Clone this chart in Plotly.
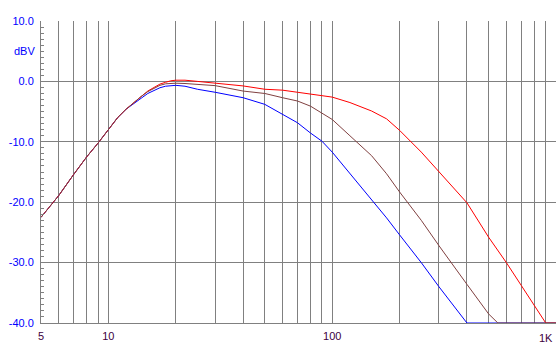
import plotly.graph_objects as go

freq = [5, 6, 7, 8, 9, 10, 11, 12, 13, 14, 15, 16, 17, 18, 19, 20, 22, 25, 30,
        40, 50, 60, 70, 80, 90, 100, 120, 150, 175, 200, 250, 300, 400, 500, 550,
        600, 700, 800, 900, 1000]

red = [-22.5, -18.9, -15.4, -12.5, -10.2, -7.9, -6.0, -4.6, -3.5, -2.5, -1.6, -1.0, -0.45,
       -0.15, 0.1, 0.2, 0.2, 0.0, -0.3, -0.75, -1.3, -1.45, -1.8, -2.1, -2.35, -2.6, -3.5,
       -4.9, -6.2, -8.1, -11.7, -15.0, -20.1, -25.8, -27.9, -30.0, -33.8, -37.0, -40.0, -40.0]
brown = [-22.5, -18.9, -15.4, -12.5, -10.2, -7.9, -6.0, -4.6, -3.5, -2.5, -1.7, -1.1, -0.65,
         -0.4, -0.3, -0.3, -0.35, -0.5, -0.7, -1.6, -2.0, -2.7, -3.25, -4.1, -5.2, -6.3, -9.0,
         -12.3, -15.3, -18.3, -23.0, -27.2, -33.6, -38.5, -40.0, -40.0, -40.0, -40.0, -40.0, -40.0]
blue = [-22.5, -18.9, -15.4, -12.5, -10.2, -7.9, -6.0, -4.6, -3.6, -2.8, -2.0, -1.45, -1.05,
        -0.8, -0.7, -0.65, -0.8, -1.3, -1.8, -2.7, -3.8, -5.5, -6.85, -8.55, -9.9, -11.7, -15.2,
        -19.5, -22.6, -25.4, -30.0, -34.0, -40.0, -40.0, -40.0, -40.0, -40.0, -40.0, -40.0, -40.0]

x_grid = [5, 6, 7, 8, 9, 10, 20, 30, 40, 50, 60, 70, 80, 90, 100,
          200, 300, 400, 500, 600, 700, 800, 900, 1000]
x_labels = {5: "5", 10: "10", 100: "100"}
y_ticks = [10, 0, -10, -20, -30, -40]
y_labels = ["10.0", "0.0", "-10.0", "-20.0", "-30.0", "-40.0"]

grid = "#808080"
font = "Liberation Sans, Arial, sans-serif"

fig = go.Figure()
fig.add_trace(go.Scatter(x=freq, y=blue, mode="lines", line=dict(color="#0000FF", width=1)))
fig.add_trace(go.Scatter(x=freq, y=red, mode="lines", line=dict(color="#FF0000", width=1)))
fig.add_trace(go.Scatter(x=freq, y=brown, mode="lines", line=dict(color="#804040", width=1)))

fig.update_layout(
    width=556, height=345,
    margin=dict(l=41, r=0, t=21, b=22),
    paper_bgcolor="white", plot_bgcolor="white",
    showlegend=False,
    font=dict(family=font, size=11),
    xaxis=dict(
        type="log", range=[0.69897, 3.0], automargin=False,
        tickmode="array", tickvals=x_grid,
        ticktext=[x_labels.get(v, "") for v in x_grid],
        showgrid=True, gridcolor=grid, gridwidth=1,
        showline=True, linecolor=grid, linewidth=1,
        ticks="", zeroline=False,
        tickfont=dict(color="#400040", size=11, family=font),
        ticklabelstandoff=3,
    ),
    yaxis=dict(
        range=[-40, 10], automargin=False,
        tickmode="array", tickvals=y_ticks, ticktext=y_labels,
        showgrid=True, gridcolor=grid, gridwidth=1,
        showline=True, linecolor=grid, linewidth=1,
        ticks="inside", ticklen=3, tickcolor=grid, tickwidth=1, zeroline=False,
        minor=dict(tickmode="linear", tick0=0, dtick=1, ticks="inside", ticklen=3,
                   tickcolor=grid, tickwidth=1, showgrid=False),
        tickfont=dict(color="#0000FF", size=11, family=font),
        ticklabelstandoff=4,
    ),
)

fig.add_annotation(text="dBV", xref="paper", x=0, xanchor="right", xshift=-4,
                   yref="y", y=5, yanchor="middle", showarrow=False,
                   font=dict(color="#0000FF", size=11, family=font))
fig.add_annotation(text="1K", xref="paper", x=1, xanchor="right", xshift=-1,
                   yref="paper", y=0, yanchor="middle", yshift=-15, showarrow=False,
                   font=dict(color="#400040", size=11, family=font))

fig.write_html("out.html", config={"displayModeBar": False},
               post_script="document.body.style.margin='0';document.body.style.overflow='hidden';")
